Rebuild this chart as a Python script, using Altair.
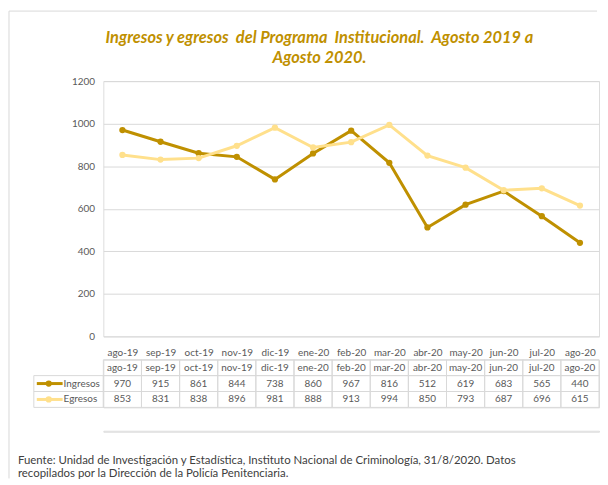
import altair as alt
import pandas as pd

months = ["ago-19", "sep-19", "oct-19", "nov-19", "dic-19", "ene-20", "feb-20",
          "mar-20", "abr-20", "may-20", "jun-20", "jul-20", "ago-20"]
ingresos = [970, 915, 861, 844, 738, 860, 967, 816, 512, 619, 683, 565, 440]
egresos = [853, 831, 838, 896, 981, 888, 913, 994, 850, 793, 687, 696, 615]
series_names = ["Ingresos", "Egresos"]
series_colors = ["#BF9000", "#FFE08C"]
y_ticks = [0, 200, 400, 600, 800, 1000, 1200]
table_rows = ["mes", "Ingresos", "Egresos"]
title_lines = ["Ingresos y egresos\u00a0 del Programa\u00a0 Institucional.\u00a0 Agosto 2019 a",
               "Agosto 2020."]
source_lines = ["Fuente: Unidad de Investigación y Estadística, Instituto Nacional de Criminología, 31/8/2020. Datos",
                "recopilados por la Dirección de la Policía Penitenciaria."]

W, H = 499, 257
TH = 48
SP = 23.5
FONT = "Lato"
GRAY = "#595959"
GRID = "#d9d9d9"

long = pd.DataFrame({
    "mes": months * 2,
    "serie": [series_names[0]] * len(months) + [series_names[1]] * len(months),
    "valor": ingresos + egresos,
})

xenc = alt.X("mes:N", sort=months, scale=alt.Scale(type="point", padding=0.5),
             axis=alt.Axis(title=None, labelAngle=0, ticks=False, domain=False,
                           labelColor=GRAY, labelFontSize=10, labelPadding=11,
                           labelFont=FONT))
yenc = alt.Y("valor:Q", scale=alt.Scale(domain=[0, 1200], nice=False),
             axis=alt.Axis(title=None, values=y_ticks, format="d", grid=True,
                           gridColor=GRID, ticks=False, domain=False,
                           labelColor=GRAY, labelFontSize=10, labelPadding=9,
                           labelFont=FONT))


def series_layer(name, color):
    base = alt.Chart(long).transform_filter(alt.datum.serie == name)
    line = base.mark_line(color=color, strokeWidth=3).encode(x=xenc, y=yenc)
    pts = base.mark_point(filled=True, color=color, size=40, opacity=1).encode(x=xenc, y=yenc)
    return line + pts


top = alt.layer(
    series_layer(series_names[0], series_colors[0]),
    series_layer(series_names[1], series_colors[1]),
).properties(
    width=W, height=H,
    title=alt.TitleParams(title_lines, anchor="middle", frame="group", dx=-32, offset=10,
                          font=FONT, fontSize=16.5, fontStyle="italic",
                          fontWeight="bold", color="#BF9000", lineHeight=20),
)

cells = pd.DataFrame({
    "mes": months * 3,
    "fila": ["mes"] * len(months) + ["Ingresos"] * len(months) + ["Egresos"] * len(months),
    "texto": months + [str(v) for v in ingresos] + [str(v) for v in egresos],
})
legend_df = pd.DataFrame({"fila": series_names, "color": series_colors})

tscale_x = alt.Scale(type="band", paddingInner=0, paddingOuter=0)
tscale_y = alt.Scale(type="band", paddingInner=0, paddingOuter=0)
tx = alt.X("mes:N", sort=months, scale=tscale_x, axis=None)
tx_c = alt.X("mes:N", sort=months, scale=tscale_x, axis=None, bandPosition=0.5)
ty = alt.Y("fila:N", sort=table_rows, scale=tscale_y, axis=None)
ty_c = alt.Y("fila:N", sort=table_rows, scale=tscale_y, axis=None, bandPosition=0.5)

cell_rect = alt.Chart(cells).mark_rect(fillOpacity=0, stroke=GRID, strokeWidth=1).encode(x=tx, y=ty)
cell_text = alt.Chart(cells).mark_text(font=FONT, fontSize=10, color=GRAY).encode(
    x=tx_c, y=ty_c, text="texto:N")
leg_rect = alt.Chart(legend_df).mark_rect(fillOpacity=0, stroke=GRID, strokeWidth=1).encode(
    x=alt.value(-70), x2=alt.value(0), y=ty)
leg_line = alt.Chart(legend_df).mark_rule(strokeWidth=3).encode(
    x=alt.value(-67), x2=alt.value(-41), y=ty_c, color=alt.Color("color:N", scale=None))
leg_pt = alt.Chart(legend_df).mark_point(filled=True, size=40, opacity=1).encode(
    x=alt.value(-55), y=ty_c, color=alt.Color("color:N", scale=None))
leg_txt = alt.Chart(legend_df).mark_text(font=FONT, fontSize=10, color=GRAY, align="left").encode(
    x=alt.value(-40), y=ty_c, text="fila:N")

table = alt.layer(cell_rect, cell_text, leg_rect, leg_line, leg_pt, leg_txt).properties(
    width=W, height=TH)

# bottom strip: chart-area frame (left and top edges) and the source note
one = pd.DataFrame({"k": [0]})
top_edge = -(H + SP + TH + SP + 70.5)
border_h = alt.Chart(one).mark_rule(color=GRID, strokeWidth=1).encode(
    x=alt.value(-95), x2=alt.value(497), y=alt.value(top_edge))
border_v = alt.Chart(one).mark_rule(color=GRID, strokeWidth=1).encode(
    x=alt.value(-95), y=alt.value(top_edge), y2=alt.value(48))


def src_line(i, ypos):
    d = pd.DataFrame({"texto": [source_lines[i]]})
    return alt.Chart(d).mark_text(font=FONT, fontSize=11.5, color="#404040",
                                  align="left", baseline="middle").encode(
        x=alt.value(-86), y=alt.value(ypos), text="texto:N")


frame = alt.layer(border_h, border_v, src_line(0, 30.7), src_line(1, 43.2)).properties(
    width=W, height=1)

chart = alt.vconcat(top, table, frame, spacing=SP, bounds="flush").properties(
    padding=0
).configure_view(stroke=None).configure(background="white")

chart.save("out.html", embed_options={"renderer": "svg", "actions": False})
